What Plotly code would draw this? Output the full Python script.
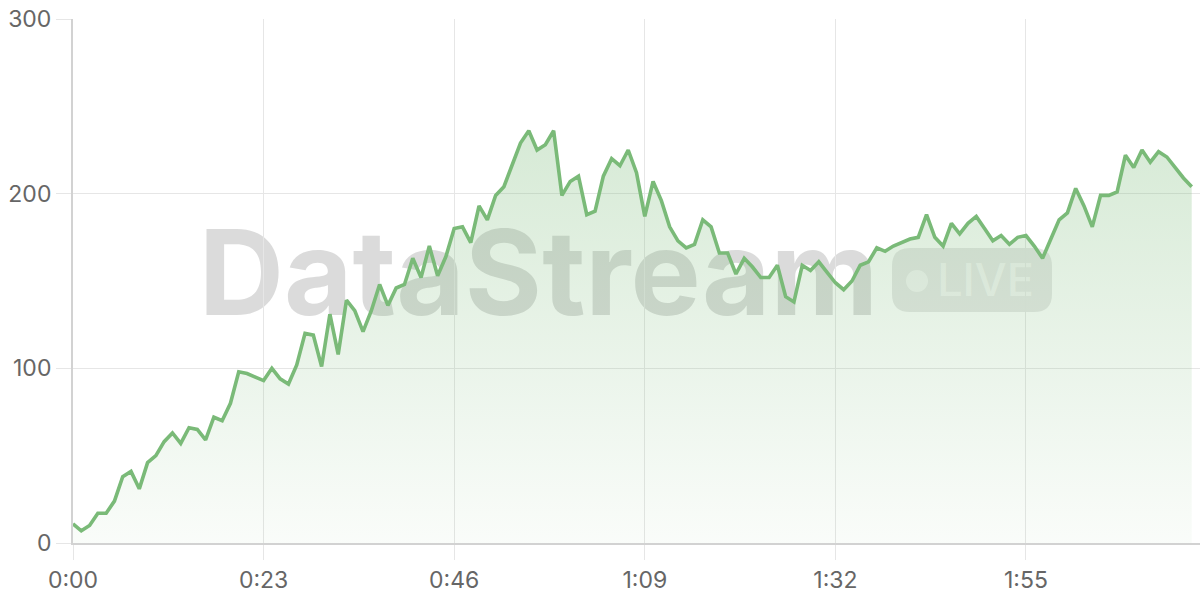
import plotly.graph_objects as go

# ---- data ----
seconds = list(range(136))
values = [11, 7, 10, 17, 17, 24, 38, 41, 31, 46,
          50, 58, 63, 57, 66, 65, 59, 72, 70, 80,
          98, 97, 95, 93, 100, 94, 91, 102, 120, 119,
          101, 131, 108, 139, 133, 121, 133, 148, 136, 146,
          148, 163, 152, 170, 153, 164, 180, 181, 172, 193,
          185, 199, 204, 216, 229, 236, 225, 228, 236, 199,
          207, 210, 188, 190, 210, 220, 216, 225, 212, 187,
          207, 196, 181, 173, 169, 171, 185, 181, 166, 166,
          154, 163, 158, 152, 152, 159, 141, 138, 159, 156,
          161, 155, 149, 145, 150, 159, 161, 169, 167, 170,
          172, 174, 175, 188, 175, 170, 183, 177, 183, 187,
          180, 173, 176, 171, 175, 176, 170, 163, 174, 185,
          189, 203, 193, 181, 199, 199, 201, 222, 215, 225,
          218, 224, 221, 215, 209, 204]
x_tickvals = [0, 23, 46, 69, 92, 115]
x_ticktext = ["0:00", "0:23", "0:46", "1:09", "1:32", "1:55"]
y_tickvals = [0, 100, 200, 300]
watermark_text = "DataStream"
badge_text = "LIVE"

# ---- layout geometry (pixels) ----
W, H = 1200, 600
ML, MR, MT, MB = 73, 0, 19, 57
PW, PH = W - ML - MR, H - MT - MB

def px(x):
    return (x - ML) / PW

def py(y):
    return (H - MB - y) / PH

GREEN = "rgb(122,186,120)"
GRID = "#e6e6e6"
AXIS = "#d2d2d2"
TXT = "#666666"
FONT = "Inter, Roboto, 'Open Sans', sans-serif"

fig = go.Figure()
fig.add_trace(go.Scatter(
    x=seconds, y=values, mode="lines",
    line=dict(color=GREEN, width=3.6),
    fill="tozeroy",
    fillgradient=dict(type="vertical", start=0, stop=240,
                      colorscale=[[0, "rgba(122,186,120,0.04)"],
                                  [1, "rgba(122,186,120,0.31)"]]),
    hoverinfo="skip", showlegend=False,
))

# rounded badge path in paper coords
bx0, bx1, by_top, by_bot, r = 892, 1052, 248, 312, 18
rx, ry = r / PW, r / PH
X0, X1, Y0, Y1 = px(bx0), px(bx1), py(by_bot), py(by_top)
path = (f"M {X0+rx},{Y0} L {X1-rx},{Y0} Q {X1},{Y0} {X1},{Y0+ry} "
        f"L {X1},{Y1-ry} Q {X1},{Y1} {X1-rx},{Y1} L {X0+rx},{Y1} "
        f"Q {X0},{Y1} {X0},{Y1-ry} L {X0},{Y0+ry} Q {X0},{Y0} {X0+rx},{Y0} Z")

shapes = [
    dict(type="rect", xref="paper", yref="paper", layer="below",
         x0=px(200), x1=px(877), y0=py(325), y1=py(210),
         line=dict(width=0), fillcolor="rgba(0,0,0,0)",
         label=dict(text=watermark_text, textposition="middle center",
                    font=dict(family=FONT, size=118, weight=700,
                              color="rgba(110,110,110,0.25)"))),
    dict(type="path", xref="paper", yref="paper", layer="below", path=path,
         line=dict(width=0), fillcolor="rgba(110,110,110,0.17)"),
    dict(type="circle", xref="paper", yref="paper", layer="below",
         x0=px(906), x1=px(928), y0=py(292), y1=py(270),
         line=dict(width=0), fillcolor="rgba(255,255,255,0.55)"),
    dict(type="rect", xref="paper", yref="paper", layer="below",
         x0=px(935), x1=px(1036), y0=py(299), y1=py(257),
         line=dict(width=0), fillcolor="rgba(0,0,0,0)",
         label=dict(text=badge_text, textposition="middle center",
                    font=dict(family=FONT, size=45, weight=500,
                              color="rgba(255,255,255,0.58)"))),
]

fig.update_layout(
    width=W, height=H,
    margin=dict(l=ML, r=MR, t=MT, b=MB),
    paper_bgcolor="white", plot_bgcolor="white",
    font=dict(family=FONT, size=23, color=TXT),
    shapes=shapes,
    xaxis=dict(range=[0, 136], tickvals=x_tickvals, ticktext=x_ticktext,
               showgrid=True, gridcolor=GRID, gridwidth=1,
               ticks="outside", ticklen=15, tickcolor=GRID, tickwidth=1,
               showline=True, linecolor=AXIS, linewidth=2,
               zeroline=False, fixedrange=True),
    yaxis=dict(range=[0, 300], tickvals=y_tickvals,
               showgrid=True, gridcolor=GRID, gridwidth=1,
               ticks="outside", ticklen=15, tickcolor=GRID, tickwidth=1,
               showline=True, linecolor=AXIS, linewidth=2,
               zeroline=False, fixedrange=True),
)

fig.write_html("out.html", config={"displayModeBar": False},
               post_script="document.body.style.margin='0';")
